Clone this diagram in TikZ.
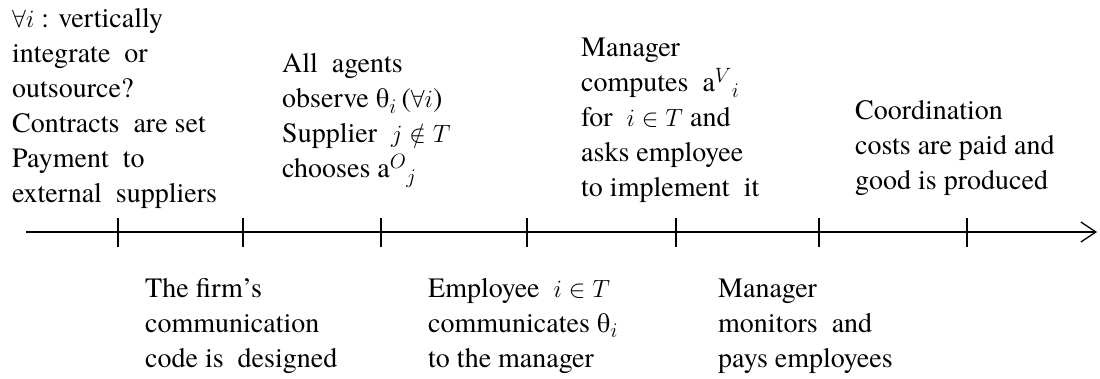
\documentclass[tikz,border=0pt]{standalone}
\usepackage{fontspec}
\IfFontExistsTF{texgyretermes-regular.otf}
  {\setmainfont{texgyretermes-regular.otf}[ItalicFont=texgyretermes-italic.otf]}
  {\setmainfont{Liberation Serif}}
\usetikzlibrary{arrows.meta}
\tikzset{
  lbl/.style={anchor=base west, inner sep=0pt, align=left,
    font=\fontsize{28}{35}\selectfont},
  axisline/.style={line width=1.3pt, -{Straight Barb[length=15pt,width=20pt,line width=1.3pt]}},
  tickline/.style={line width=1.1pt}
}
\begin{document}
\begin{tikzpicture}[x=1pt,y=1pt]
\useasboundingbox (0,0) rectangle (1100,-379);
% axis
\coordinate (s) at (26,-232);
\coordinate (e) at (1097,-232);
\draw[axisline] (s) -- (e);
\foreach \n/\x in {1/118,2/243,3/381,4/527,5/676,6/819,7/967}{
  \coordinate (k\n) at (\x,-232);
  \draw[tickline] ([yshift=14pt]k\n) -- ([yshift=-15pt]k\n);
}
% top labels (anchored at the baseline of their last line)
\node[lbl] (t1) at (12,-203) {$\forall i$ : vertically\\integrate\ \ or\\outsource?\\Contracts\ \ are set\\Payment\ \ to\\external\ \ suppliers};
\node[lbl] (t2) at (282,-178) {All\ \ agents\\observe θ$_i$\,($\forall i$)\\Supplier\ \ $j\notin T$\\chooses a$^{O}{}_{j}$};
\node[lbl] (t3) at (581,-197) {Manager\\computes\ \ a$^{V}{}_{i}$\\for\ \ $i\in T$ and\\asks employee\\to implement\ \ it};
\node[lbl] (t4) at (855,-190) {Coordination\\costs are paid and\\good is produced};
% bottom labels
\node[lbl] (b1) at (145,-367) {The firm’s\\communication\\code is\ \ designed};
\node[lbl] (b2) at (428,-367) {Employee\ \ $i\in T$\\communicates θ$_i$\\to the manager};
\node[lbl] (b3) at (718,-367) {Manager\\monitors\ \ and\\pays employees};
\end{tikzpicture}
\end{document}
